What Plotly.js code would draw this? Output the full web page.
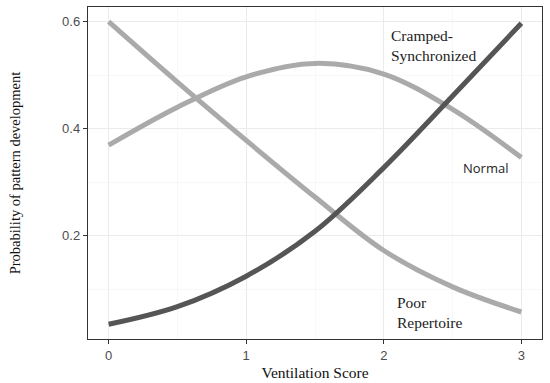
<!DOCTYPE html>
<html>
<head>
<meta charset="utf-8">
<script src="https://cdn.plot.ly/plotly-3.0.1.min.js"></script>
<style>html,body{margin:0;padding:0;background:#fff}#chart{width:550px;height:383px}</style>
</head>
<body>
<div id="chart"></div>
<script>
const ventilationScore = [0, 0.5, 1, 1.5, 2, 2.5, 3];
const crampedSynchronized = [0.034, 0.067, 0.124, 0.208, 0.327, 0.461, 0.597];
const normal = [0.369, 0.440, 0.497, 0.522, 0.502, 0.436, 0.346];
const poorRepertoire = [0.600, 0.487, 0.378, 0.272, 0.172, 0.104, 0.057];

const xTickVals = [0, 1, 2, 3];
const yTickVals = [0.2, 0.4, 0.6];

const light = '#aaaaaa', dark = '#555555';
function line(y, color, name) {
  return {x: ventilationScore, y: y, name: name, type: 'scatter', mode: 'lines',
    line: {color: color, width: 5, shape: 'spline', smoothing: 1}, hoverinfo: 'x+y+name'};
}
const data = [
  line(normal, light, 'Normal'),
  line(poorRepertoire, light, 'Poor Repertoire'),
  line(crampedSynchronized, dark, 'Cramped-Synchronized')
];
const serif = '"Liberation Serif", "DejaVu Serif", serif';
const axisCommon = {
  showline: true, mirror: true, linecolor: '#333333', linewidth: 1.2,
  ticks: 'outside', ticklen: 4, tickcolor: '#333333', tickwidth: 1,
  showgrid: true, gridcolor: '#ebebeb', gridwidth: 1.2, zeroline: false,
  tickfont: {family: '"Liberation Sans", Arial, sans-serif', size: 13, color: '#4d4d4d'}
};
const layout = {
  width: 550, height: 383,
  margin: {l: 88, r: 8, t: 7, b: 44},
  paper_bgcolor: '#ffffff', plot_bgcolor: '#ffffff',
  showlegend: false,
  xaxis: Object.assign({}, axisCommon, {
    range: [-0.15, 3.15], tickmode: 'array', tickvals: xTickVals,
    minor: {tickvals: [0.5, 1.5, 2.5], showgrid: true, gridcolor: '#f3f3f3', gridwidth: 0.6, ticks: ''},
    title: {text: 'Ventilation Score', font: {family: serif, size: 15.5, color: '#111'}, standoff: 5}
  }),
  yaxis: Object.assign({}, axisCommon, {
    range: [0.0065, 0.6275], tickmode: 'array', tickvals: yTickVals, ticktext: ['0.2', '0.4', '0.6'],
    minor: {tickvals: [0.1, 0.3, 0.5], showgrid: true, gridcolor: '#f3f3f3', gridwidth: 0.6, ticks: ''},
    title: {text: 'Probability of pattern development', font: {family: serif, size: 14.5, color: '#111'}, standoff: 38}
  }),
  annotations: [
    {x: 2.04, y: 0.556, xref: 'x', yref: 'y', xanchor: 'left', yanchor: 'middle', align: 'left',
     text: 'Cramped-<br>Synchronized', showarrow: false, font: {family: serif, size: 15.5, color: '#222'}},
    {x: 2.74, y: 0.327, xref: 'x', yref: 'y', xanchor: 'center', yanchor: 'middle',
     text: 'Normal', showarrow: false, font: {family: '"Open Sans", "Liberation Sans", sans-serif', size: 13, color: '#222'}},
    {x: 2.08, y: 0.057, xref: 'x', yref: 'y', xanchor: 'left', yanchor: 'middle', align: 'left',
     text: 'Poor<br>Repertoire', showarrow: false, font: {family: serif, size: 15.5, color: '#222'}}
  ]
};
Plotly.newPlot('chart', data, layout, {displayModeBar: false, staticPlot: true});
</script>
</body>
</html>
